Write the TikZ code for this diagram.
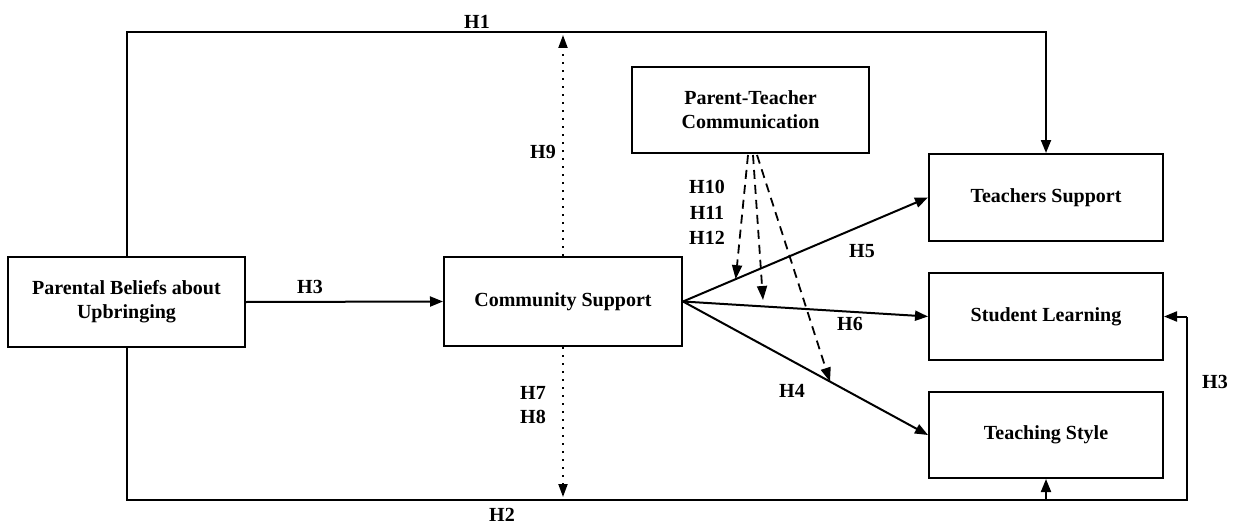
\documentclass[tikz,border=0pt]{standalone}
\usepackage{fontspec}
\setmainfont{Liberation Serif}
\usetikzlibrary{arrows.meta,calc}
\tikzset{
  box/.style={draw, line width=2pt, inner sep=0pt, align=center, font=\fontsize{20}{24}\selectfont\bfseries},
  conn/.style={line width=2pt},
  arr/.style={conn, -{Triangle[length=13pt,width=10pt]}},
  dotarr/.style={line width=2pt, dash pattern=on 2pt off 6pt, -{Triangle[length=13pt,width=9pt]}},
  dasharr/.style={line width=1.8pt, dash pattern=on 9pt off 6pt, -{Triangle[length=14pt,width=10pt]}},
  lbl/.style={font=\fontsize{20}{24}\selectfont\bfseries, inner sep=0pt}
}
\begin{document}
\begin{tikzpicture}[x=1pt,y=-1pt]
\useasboundingbox (0,0) rectangle (1236,524);
% boxes
\node[box, minimum width=237pt, minimum height=90pt] (pb) at (126.5,302) {Parental Beliefs about\\Upbringing};
\node[box, minimum width=238pt, minimum height=89pt] (cs) at (563,301.5) {Community Support};
\node[box, minimum width=237pt, minimum height=86pt] (ptc) at (750.5,110) {Parent-Teacher\\Communication};
\node[box, minimum width=234pt, minimum height=87pt] (tsup) at (1046,197.5) {Teachers Support};
\node[box, minimum width=234pt, minimum height=87pt] (sl) at (1046,316.5) {Student Learning};
\node[box, minimum width=234pt, minimum height=86pt] (tsty) at (1046,435) {Teaching Style};
% helper coordinates
\coordinate (tl) at (126.5,32);
\coordinate (tr) at (1046,32);
\coordinate (bl) at (126.5,500);
\coordinate (br) at (1187,500);
\coordinate (bm) at (1046,500);
\coordinate (rs) at (1187,316.5);
\coordinate (h9t) at (563,35);
\coordinate (h7b) at (563,497);
% H1
\draw[arr] (pb.north) -- (tl) -- (tr) -- (tsup.north);
% H2 / right H3
\draw[conn] (pb.south) -- (bl) -- (br) -- (rs);
\draw[arr] (rs) -- (sl.east);
\draw[arr] (bm) -- (tsty.south);
% H3
\draw[arr] (pb.east) -- (cs.west);
% dotted H9, H7/H8
\draw[dotarr] (cs.north) -- (h9t);
\draw[dotarr] (cs.south) -- (h7b);
% fan
\draw[arr] (cs.east) -- (tsup.west) coordinate[pos=0.215] (d1);
\draw[arr] (cs.east) -- (sl.west);
\draw[arr] (cs.east) -- (tsty.west) coordinate[pos=0.6] (d3);
\coordinate (d2) at (763,300);
% dashed moderation
\coordinate (p1) at (748,155);
\coordinate (p2) at (753,155);
\coordinate (p3) at (757,155);
\draw[dasharr] (p1) -- (d1);
\draw[dasharr] (p2) -- (d2);
\draw[dasharr] (p3) -- (d3);
% labels
\node[lbl] (l1) at (477,22) {H1};
\node[lbl] (l2) at (502,515) {H2};
\node[lbl] (l3) at (310,287) {H3};
\node[lbl] (l3b) at (1215,382) {H3};
\node[lbl] (l9) at (543,152) {H9};
\node[lbl] (l7) at (533,393) {H7};
\node[lbl] (l8) at (533,417) {H8};
\node[lbl] (l10) at (707,187) {H10};
\node[lbl] (l11) at (707,213) {H11};
\node[lbl] (l12) at (707,238) {H12};
\node[lbl] (l5) at (862,251) {H5};
\node[lbl] (l6) at (850,324) {H6};
\node[lbl] (l4) at (792,391) {H4};
\end{tikzpicture}
\end{document}
